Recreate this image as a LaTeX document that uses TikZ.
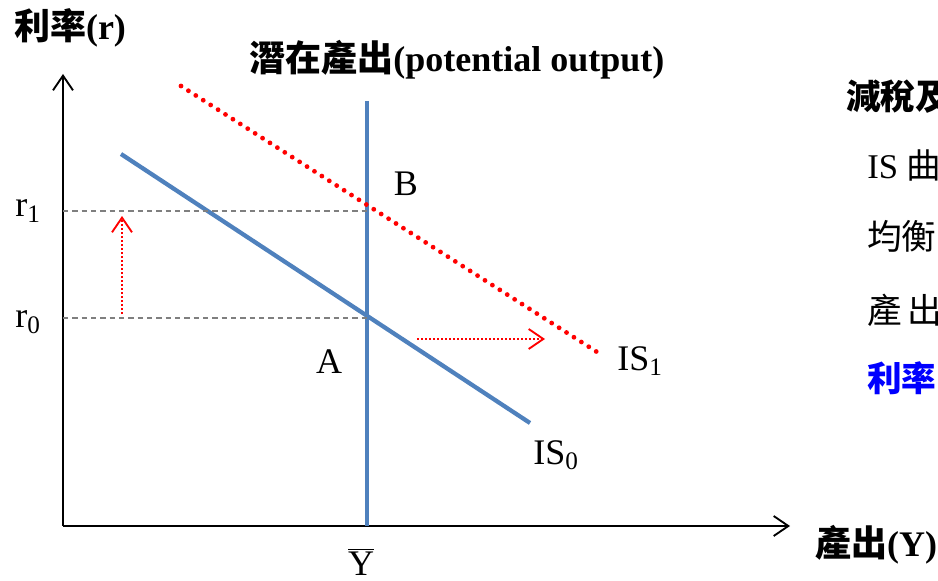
\documentclass[tikz,border=0pt]{standalone}
\usepackage{fontspec}
\setmainfont{Liberation Serif}
\newfontfamily\cjk{Noto Sans CJK TC}
\usetikzlibrary{arrows.meta, positioning}
\definecolor{isBlue}{HTML}{4F81BD}
\definecolor{shiftRed}{HTML}{FF0000}
\definecolor{guideGray}{HTML}{7F7F7F}
\definecolor{noteBlue}{HTML}{0000FF}

\begin{document}
\begin{tikzpicture}[x=0.75pt, y=-0.75pt,
      >={Straight Barb[length=11pt, width=15pt, line width=1.4pt]},
      axis/.style={line width=1.1pt, ->},
      isline/.style={isBlue, line width=3.2pt},
      shiftline/.style={shiftRed, line width=3.6pt, line cap=round,
                        dash pattern=on 0pt off 6.6pt},
      shiftarrow/.style={shiftRed, line width=1.4pt, ->,
                         dash pattern=on 1.5pt off 1.5pt},
      guide/.style={guideGray, line width=0.8pt, dash pattern=on 4pt off 3pt},
      lbl/.style={inner sep=0pt, font=\fontsize{27}{32}\selectfont},
      head/.style={inner sep=0pt, font=\fontsize{27}{32}\selectfont\bfseries},
      note/.style={inner sep=0pt, anchor=west, font=\fontsize{26}{32}\selectfont}]
    \useasboundingbox (0,0) rectangle (938,581);

    % axes
    \coordinate (O) at (63,526);
    \coordinate (ytop) at (63,74);
    \coordinate (xend) at (790,526);
    \draw[axis] (O) -- (ytop);
    \draw[axis] (O) -- (xend);

    % potential output
    \coordinate (Ptop) at (367,101);
    \coordinate (Pbot) at (367,526);
    \draw[isline] (Ptop) -- (Pbot);

    % IS curves
    \coordinate (is0a) at (121,154);
    \coordinate (is0b) at (530,423);
    \coordinate (is1a) at (181,86);
    \coordinate (is1b) at (597,352);
    \draw[shiftline] (is1a) -- (is1b);
    \draw[isline] (is0a) -- (is0b);

    % guide lines
    \coordinate (r1a) at (63,211);
    \coordinate (r1b) at (367,211);
    \coordinate (r0a) at (63,318);
    \coordinate (r0b) at (367,318);
    \draw[guide] (r1a) -- (r1b);
    \draw[guide] (r0a) -- (r0b);

    % shifts
    \coordinate (upA) at (122,314);
    \coordinate (upB) at (122,216);
    \coordinate (rtA) at (417,339);
    \coordinate (rtB) at (545,339);
    \draw[shiftarrow] (upA) -- (upB);
    \draw[shiftarrow] (rtA) -- (rtB);

    % labels
    \node[lbl] (r1) at (28,211) {r\textsubscript{1}};
    \node[lbl] (r0) at (28,322) {r\textsubscript{0}};
    \node[lbl] (B) at (406,184) {B};
    \node[lbl] (A) at (329,362) {A};
    \node[lbl] (IS1) at (640,361) {IS\textsubscript{1}};
    \node[lbl] (IS0) at (556,455) {IS\textsubscript{0}};
    \node[lbl] (Ybar) at (361,562) {$\overline{\hbox{Y}}$};

    \node[head] (rate) at (70,28) {{\cjk 利率}(r)};
    \node[head] (pot) at (457,60) {{\cjk 潛在產出}(potential output)};
    \node[head] (out) at (876,545) {{\cjk 產出}(Y)};

    % side note (cut at the edge)
    \node[note, font=\fontsize{26}{32}\selectfont\bfseries] (n1) at (846,97) {\cjk 減稅及};
    \node[note] (n2) at (867,165) {IS {\cjk 曲}};
    \node[note] (n3) at (867,236) {\cjk 均衡};
    \node[note] (n4) at (867,310) {\cjk 產\,出};
    \node[note, text=noteBlue, font=\fontsize{26}{32}\selectfont\bfseries] (n5) at (867,378) {\cjk 利率};
  \end{tikzpicture}
\end{document}
